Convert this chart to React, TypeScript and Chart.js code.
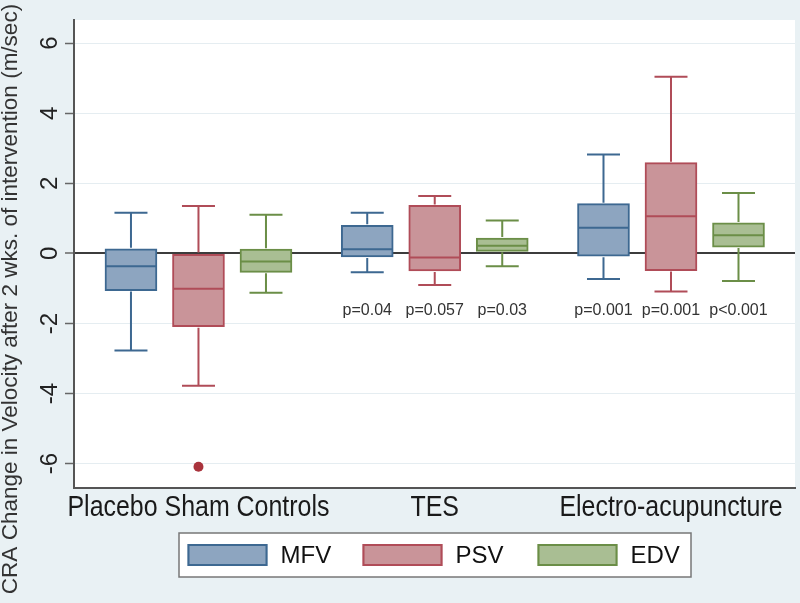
import React, { useEffect, useRef } from "react";
import { Chart, registerables } from "chart.js";
Chart.register(...registerables);

// ---- data ----
const groups = ["Placebo Sham Controls", "TES", "Electro-acupuncture"];
const seriesNames = ["MFV", "PSV", "EDV"];

const mfvLow = [-2.77, -0.54, -0.73];
const mfvQ1 = [-1.06, -0.1, -0.08];
const mfvMedian = [-0.37, 0.12, 0.73];
const mfvQ3 = [0.13, 0.8, 1.42];
const mfvHigh = [1.16, 1.16, 2.82];

const psvLow = [-3.78, -0.9, -1.09];
const psvQ1 = [-2.09, -0.5, -0.49];
const psvMedian = [-1.01, -0.12, 1.06];
const psvQ3 = [0.0, 1.37, 2.59];
const psvHigh = [1.35, 1.64, 5.04];

const edvLow = [-1.12, -0.37, -0.79];
const edvQ1 = [-0.54, 0.06, 0.18];
const edvMedian = [-0.23, 0.22, 0.52];
const edvQ3 = [0.12, 0.44, 0.87];
const edvHigh = [1.1, 0.94, 1.72];

const mfvOutliers: number[][] = [[], [], []];
const psvOutliers: number[][] = [[-6.09], [], []];
const edvOutliers: number[][] = [[], [], []];

const mfvP = ["", "p=0.04", "p=0.001"];
const psvP = ["", "p=0.057", "p=0.001"];
const edvP = ["", "p=0.03", "p<0.001"];
const pLabelValue = -1.63;

const yTicks = [-6, -4, -2, 0, 2, 4, 6];
const yTickLabels = ["-6", "-4", "-2", "0", "2", "4", "6"];
const yTitle = "CRA Change in Velocity after 2 wks. of intervention (m/sec)";

// ---- style ----
const BG = "#e9f1f4";
const fills = ["#8da5c0", "#c99499", "#a9be93"];
const strokes = ["#3d6891", "#b04c58", "#6b8e47"];
const OUTLIER = "#a9333c";
const FONT = "'Liberation Sans', Arial, sans-serif";
const groupGap = 0.5;
const BOX_W = 52;
const CAP_W = 33;

const series = [
  { low: mfvLow, q1: mfvQ1, med: mfvMedian, q3: mfvQ3, high: mfvHigh, out: mfvOutliers, p: mfvP },
  { low: psvLow, q1: psvQ1, med: psvMedian, q3: psvQ3, high: psvHigh, out: psvOutliers, p: psvP },
  { low: edvLow, q1: edvQ1, med: edvMedian, q3: edvQ3, high: edvHigh, out: edvOutliers, p: edvP },
];

const pos = (g: number, s: number) => g * (seriesNames.length + groupGap) + s;

const extras = {
  id: "boxExtras",
  beforeDraw(chart: any) {
    const { ctx, chartArea: a } = chart;
    ctx.save();
    ctx.fillStyle = BG;
    ctx.fillRect(0, 0, chart.width, chart.height);
    ctx.fillStyle = "#ffffff";
    ctx.fillRect(a.left, a.top, a.right - a.left, a.bottom - a.top);
    ctx.restore();
  },
  afterDatasetsDraw(chart: any) {
    const { ctx } = chart;
    const xs = chart.scales.x;
    const ys = chart.scales.y;
    ctx.save();
    ctx.lineWidth = 2;
    series.forEach((s, si) => {
      groups.forEach((_g, gi) => {
        const cx = xs.getPixelForValue(pos(gi, si));
        ctx.strokeStyle = strokes[si];
        const yq1 = ys.getPixelForValue(s.q1[gi]);
        const yq3 = ys.getPixelForValue(s.q3[gi]);
        const yhi = ys.getPixelForValue(s.high[gi]);
        const ylo = ys.getPixelForValue(s.low[gi]);
        const ymed = ys.getPixelForValue(s.med[gi]);
        ctx.beginPath();
        ctx.moveTo(cx, yq3 - 1);
        ctx.lineTo(cx, yhi);
        ctx.moveTo(cx - CAP_W / 2, yhi);
        ctx.lineTo(cx + CAP_W / 2, yhi);
        ctx.moveTo(cx, yq1 + 1);
        ctx.lineTo(cx, ylo);
        ctx.moveTo(cx - CAP_W / 2, ylo);
        ctx.lineTo(cx + CAP_W / 2, ylo);
        ctx.moveTo(cx - BOX_W / 2 + 1, ymed);
        ctx.lineTo(cx + BOX_W / 2 - 1, ymed);
        ctx.stroke();
      });
    });
    ctx.restore();
  },
  afterDraw(chart: any) {
    const { ctx } = chart;
    const xs = chart.scales.x;
    const ys = chart.scales.y;
    ctx.save();
    // y tick labels (rotated)
    ctx.fillStyle = "#222";
    ctx.font = `24px ${FONT}`;
    ctx.textAlign = "center";
    ctx.textBaseline = "middle";
    yTicks.forEach((v, i) => {
      const py = ys.getPixelForValue(v);
      ctx.save();
      ctx.translate(50, py);
      ctx.rotate(-Math.PI / 2);
      ctx.fillText(yTickLabels[i], 0, 0);
      ctx.restore();
    });
    // y title
    ctx.save();
    ctx.fillStyle = "#333";
    ctx.font = `22.5px ${FONT}`;
    ctx.translate(11, 299);
    ctx.rotate(-Math.PI / 2);
    ctx.fillText(yTitle, 0, 0);
    ctx.restore();
    // group labels (slightly condensed, tall)
    ctx.fillStyle = "#1a1a1a";
    ctx.font = `29px ${FONT}`;
    ctx.textBaseline = "alphabetic";
    groups.forEach((g, gi) => {
      ctx.save();
      ctx.translate(xs.getPixelForValue(pos(gi, (seriesNames.length - 1) / 2)), 515.5);
      ctx.scale(0.86, 1);
      ctx.fillText(g, 0, 0);
      ctx.restore();
    });
    // p labels
    ctx.textBaseline = "middle";
    ctx.fillStyle = "#333";
    ctx.font = `16px ${FONT}`;
    const py = ys.getPixelForValue(pLabelValue);
    series.forEach((s, si) => {
      groups.forEach((_g, gi) => {
        if (s.p[gi]) ctx.fillText(s.p[gi], xs.getPixelForValue(pos(gi, si)), py);
      });
    });
    // legend
    const L = { x: 179, y: 533, w: 512, h: 44 };
    ctx.fillStyle = "#ffffff";
    ctx.fillRect(L.x, L.y, L.w, L.h);
    ctx.strokeStyle = "#777";
    ctx.lineWidth = 1.5;
    ctx.strokeRect(L.x, L.y, L.w, L.h);
    const itemW = 175;
    ctx.font = `24px ${FONT}`;
    ctx.textAlign = "left";
    ctx.textBaseline = "alphabetic";
    seriesNames.forEach((name, si) => {
      const sx = L.x + 8.5 + si * itemW;
      const sy = L.y + 11;
      ctx.fillStyle = fills[si];
      ctx.fillRect(sx, sy, 80, 22);
      ctx.strokeStyle = strokes[si];
      ctx.lineWidth = 2;
      ctx.strokeRect(sx + 1, sy + 1, 78, 20);
      ctx.fillStyle = "#111";
      ctx.fillText(name, sx + 93, 562.5);
    });
    ctx.restore();
  },
};

export default function App() {
  const ref = useRef<HTMLCanvasElement | null>(null);
  useEffect(() => {
    document.body.style.margin = "0";
    document.body.style.background = BG;
    const canvas = ref.current!;
    const datasets: any[] = series.map((s, si) => ({
      type: "bar",
      label: seriesNames[si],
      data: groups.map((_g, gi) => ({ x: pos(gi, si), y: [s.q1[gi], s.q3[gi]] })),
      backgroundColor: fills[si],
      borderColor: strokes[si],
      borderWidth: 2,
      borderSkipped: false,
      barThickness: BOX_W,
      grouped: false,
      order: 2,
    }));
    series.forEach((s, si) => {
      const pts: any[] = [];
      s.out.forEach((vals, gi) => vals.forEach((v) => pts.push({ x: pos(gi, si), y: v })));
      if (pts.length)
        datasets.push({
          type: "scatter",
          label: seriesNames[si] + " outliers",
          data: pts,
          pointRadius: 5,
          pointBackgroundColor: OUTLIER,
          pointBorderWidth: 0,
          order: 1,
        });
    });
    const chart = new Chart(canvas, {
      type: "bar",
      data: { datasets },
      options: {
        animation: false,
        responsive: false,
        devicePixelRatio: 1,
        layout: { padding: { left: 74, right: 5, top: 20, bottom: 115.5 } },
        plugins: { legend: { display: false }, tooltip: { enabled: false } },
        scales: {
          x: {
            type: "linear",
            min: -0.844,
            max: 9.837,
            offset: false,
            grid: { display: false, offset: false },
            ticks: { display: false },
            border: { display: true, color: "#555", width: 2 },
            afterFit: (s: any) => {
              s.height = 0;
            },
          },
          y: {
            type: "linear",
            min: -6.68,
            max: 6.66,
            afterBuildTicks: (s: any) => {
              s.ticks = yTicks.map((v) => ({ value: v }));
            },
            grid: {
              color: (c: any) => (c.tick && c.tick.value === 0 ? "#3c3c3c" : "#e5edf1"),
              lineWidth: (c: any) => (c.tick && c.tick.value === 0 ? 2 : 1),
              tickColor: "#666",
              tickWidth: 1.5,
              tickLength: 9,
              drawTicks: true,
            },
            ticks: { display: false },
            border: { display: true, color: "#555", width: 2 },
            afterFit: (s: any) => {
              s.width = 0;
            },
          },
        },
      },
      plugins: [extras],
    } as any);
    return () => chart.destroy();
  }, []);
  return <canvas ref={ref} width={800} height={603} style={{ display: "block" }} />;
}
